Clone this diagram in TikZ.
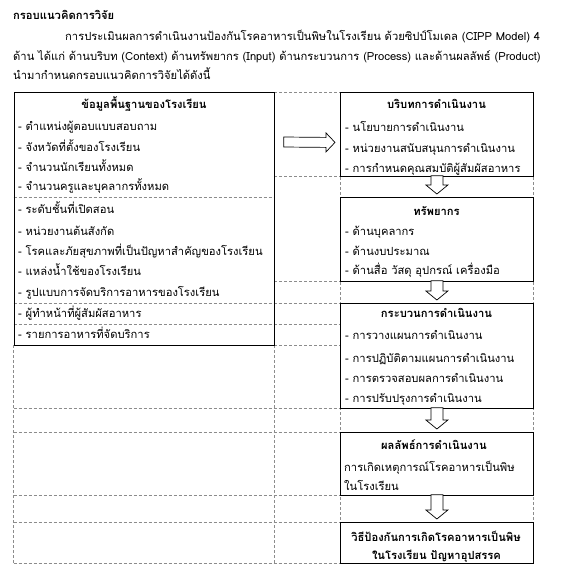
\documentclass[tikz,border=0pt]{standalone}
\usepackage{fontspec}
\newfontfamily\thaifont[Script=Thai]{Loma}
\usetikzlibrary{calc}

\begin{document}
\begin{tikzpicture}[x=1pt, y=-1pt,
    every node/.style={font=\thaifont\fontsize{11.2}{13}\selectfont, inner sep=0pt},
    frame/.style={draw=black, line width=0.8pt, anchor=north west},
    gridline/.style={draw=black!45, line width=0.7pt, dash pattern=on 3pt off 2pt},
    blockarrow/.style={draw=black, line width=0.7pt, fill=white, line join=miter},
    item/.style={anchor=base west},
    head/.style={anchor=base, font=\thaifont\bfseries\fontsize{11.2}{13}\selectfont}]
        \useasboundingbox (0,0) rectangle (561,574);

        % Heading and paragraph
        \node[item, font=\thaifont\bfseries\fontsize{11.2}{13}\selectfont] (title) at (13,19) {กรอบแนวคิดการวิจัย};
        \node[item] (par1) at (65,40) {การประเมินผลการดำเนินงานป้องกันโรคอาหารเป็นพิษในโรงเรียน ด้วยซิปป์โมเดล (CIPP Model) 4};
        \node[item] (par2) at (13,60) {ด้าน ได้แก่ ด้านบริบท (Context) ด้านทรัพยากร (Input) ด้านกระบวนการ (Process) และด้านผลลัพธ์ (Product)};
        \node[item] (par3) at (13,79) {นำมากำหนดกรอบแนวคิดการวิจัยได้ดังนี้};

        % Table grid (dashed)
        \draw[gridline] (13.5,345) -- (13.5,563);
        \draw[gridline] (274,345) -- (274,563);
        \draw[gridline] (340,92) -- (340,563);
        \draw[gridline] (533,92) -- (533,563);
        \draw[gridline] (274,92) -- (340,92);
        \draw[gridline] (274,176) -- (340,176);
        \draw[gridline] (13.5,197) -- (274,197);
        \draw[gridline] (274,281) -- (340,281);
        \draw[gridline] (13.5,303) -- (340,303);
        \draw[gridline] (13.5,324) -- (340,324);
        \draw[gridline] (274,345) -- (340,345);
        \draw[gridline] (13.5,408) -- (340,408);
        \draw[gridline] (13.5,432) -- (340,432);
        \draw[gridline] (13.5,495) -- (340,495);
        \draw[gridline] (13.5,522) -- (340,522);
        \draw[gridline] (13.5,563) -- (340,563);

        % Left box: school data
        \node[frame, minimum width=260.5, minimum height=253] (basic) at (13.5,92) {};
        \node[head] (basicT) at (144,108) {ข้อมูลพื้นฐานของโรงเรียน};
        \node[item] (b1) at (18,130) {- ตำแหน่งผู้ตอบแบบสอบถาม};
        \node[item] (b2) at (18,151) {- จังหวัดที่ตั้งของโรงเรียน};
        \node[item] (b3) at (18,171) {- จำนวนนักเรียนทั้งหมด};
        \node[item] (b4) at (18,190) {- จำนวนครูและบุคลากรทั้งหมด};
        \node[item] (b5) at (18,213) {- ระดับชั้นที่เปิดสอน};
        \node[item] (b6) at (18,235) {- หน่วยงานต้นสังกัด};
        \node[item] (b7) at (18,255) {- โรคและภัยสุขภาพที่เป็นปัญหาสำคัญของโรงเรียน};
        \node[item] (b8) at (18,275) {- แหล่งน้ำใช้ของโรงเรียน};
        \node[item] (b9) at (18,296) {- รูปแบบการจัดบริการอาหารของโรงเรียน};
        \node[item] (b10) at (18,317) {- ผู้ทำหน้าที่ผู้สัมผัสอาหาร};
        \node[item] (b11) at (18,338) {- รายการอาหารที่จัดบริการ};

        % Right column boxes
        \node[frame, minimum width=193, minimum height=84] (ctx) at (340,92) {};
        \node[head] (ctxT) at (436.5,108) {บริบทการดำเนินงาน};
        \node[item] (c1) at (345,131) {- นโยบายการดำเนินงาน};
        \node[item] (c2) at (345,152) {- หน่วยงานสนับสนุนการดำเนินงาน};
        \node[item] (c3) at (345,172) {- การกำหนดคุณสมบัติผู้สัมผัสอาหาร};

        \node[frame, minimum width=193, minimum height=84] (res) at (340,197) {};
        \node[head] (resT) at (436.5,215) {ทรัพยากร};
        \node[item] (r1) at (345,235) {- ด้านบุคลากร};
        \node[item] (r2) at (345,255) {- ด้านงบประมาณ};
        \node[item] (r3) at (345,274) {- ด้านสื่อ วัสดุ อุปกรณ์ เครื่องมือ};

        \node[frame, minimum width=193, minimum height=105] (proc) at (340,303) {};
        \node[head] (procT) at (436.5,317) {กระบวนการดำเนินงาน};
        \node[item] (p1) at (345,339) {- การวางแผนการดำเนินงาน};
        \node[item] (p2) at (345,362) {- การปฏิบัติตามแผนการดำเนินงาน};
        \node[item] (p3) at (345,382) {- การตรวจสอบผลการดำเนินงาน};
        \node[item] (p4) at (345,402) {- การปรับปรุงการดำเนินงาน};

        \node[frame, minimum width=193, minimum height=63] (prod) at (340,432) {};
        \node[head] (prodT) at (434,449) {ผลลัพธ์การดำเนินงาน};
        \node[item] (d1) at (344,471) {การเกิดเหตุการณ์โรคอาหารเป็นพิษ};
        \node[item] (d2) at (344,490) {ในโรงเรียน};

        \node[frame, minimum width=193, minimum height=41] (prev) at (340,522) {};
        \node[head] (prevT) at (436,541) {วิธีป้องกันการเกิดโรคอาหารเป็นพิษ};
        \node[head] (prevT2) at (436.5,559) {ในโรงเรียน ปัญหาอุปสรรค};

        % Block arrows
        \draw[blockarrow] ($(basic.north east)+(9,45)$) -- ($(ctx.west)+(-14,3)$) -- ($(ctx.west)+(-14,-1.5)$)
            -- ($(ctx.west)+(-5,8)$) -- ($(ctx.west)+(-14,17.5)$) -- ($(ctx.west)+(-14,13)$)
            -- ($(basic.north east)+(9,55)$) -- cycle;
        \draw[blockarrow] ($(ctx.south)+(-6,-1)$) -- ($(res.north)+(-6,-12)$) -- ($(res.north)+(-11,-12)$) -- ($(res.north)+(0,-3)$)
            -- ($(res.north)+(11,-12)$) -- ($(res.north)+(6,-12)$) -- ($(ctx.south)+(6,-1)$) -- cycle;
        \draw[blockarrow] ($(res.south)+(-6,-1)$) -- ($(proc.north)+(-6,-12)$) -- ($(proc.north)+(-11,-12)$) -- ($(proc.north)+(0,-3)$)
            -- ($(proc.north)+(11,-12)$) -- ($(proc.north)+(6,-12)$) -- ($(res.south)+(6,-1)$) -- cycle;
        \draw[blockarrow] ($(proc.south)+(-6,-1)$) -- ($(prod.north)+(-6,-12)$) -- ($(prod.north)+(-11,-12)$) -- ($(prod.north)+(0,-3)$)
            -- ($(prod.north)+(11,-12)$) -- ($(prod.north)+(6,-12)$) -- ($(proc.south)+(6,-1)$) -- cycle;
        \draw[blockarrow] ($(prod.south)+(-6,-1)$) -- ($(prev.north)+(-6,-12)$) -- ($(prev.north)+(-11,-12)$) -- ($(prev.north)+(0,-3)$)
            -- ($(prev.north)+(11,-12)$) -- ($(prev.north)+(6,-12)$) -- ($(prod.south)+(6,-1)$) -- cycle;
    \end{tikzpicture}
\end{document}
